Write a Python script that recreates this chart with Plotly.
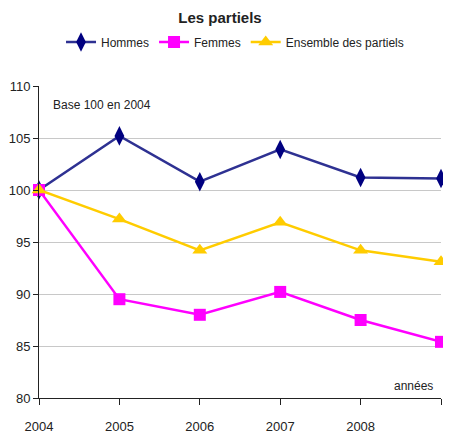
import plotly.graph_objects as go

years = [2004, 2005, 2006, 2007, 2008, 2009]
hommes = [100, 105.2, 100.8, 103.9, 101.2, 101.1]
femmes = [100, 89.5, 88.0, 90.2, 87.5, 85.4]
ensemble = [100, 97.2, 94.2, 96.9, 94.2, 93.1]
yticks = [80, 85, 90, 95, 100, 105, 110]

FONT = "Liberation Sans Narrow, Arial Narrow, Liberation Sans, Arial, sans-serif"

fig = go.Figure()
fig.add_trace(go.Scatter(x=years, y=hommes, name="Hommes", mode="lines+markers",
                         line=dict(color="#2E3192", width=2.5),
                         marker=dict(symbol="diamond-tall", size=14, color="#000080"),
                         cliponaxis=False))
fig.add_trace(go.Scatter(x=years, y=femmes, name="Femmes", mode="lines+markers",
                         line=dict(color="#FF00FF", width=2.5),
                         marker=dict(symbol="square", size=12, color="#FF00FF"),
                         cliponaxis=False))
fig.add_trace(go.Scatter(x=years, y=ensemble, name="Ensemble des partiels", mode="lines+markers",
                         line=dict(color="#FFCC00", width=2.5),
                         marker=dict(symbol="triangle-up", size=13, color="#FFCC00"),
                         cliponaxis=False))

# page body has an 8px margin: figure origin sits at (8, 8)
fig.update_layout(
    width=443, height=429,
    margin=dict(l=31, r=10, t=78, b=39, autoexpand=False),
    paper_bgcolor="white", plot_bgcolor="white",
    font=dict(family=FONT, size=12, color="#222222"),
    title=dict(text="<b>Les partiels</b>", x=0.4786, xanchor="center", y=1 - 9.5 / 429, yanchor="middle",
               font=dict(family="Liberation Sans, Arial, sans-serif", size=15, color="#222222")),
    legend=dict(orientation="h", x=0.4876, xanchor="center", y=1.141, yanchor="middle",
                font=dict(family=FONT, size=12), itemwidth=30, tracegroupgap=0,
                bgcolor="rgba(0,0,0,0)"),
    showlegend=True,
    xaxis=dict(range=[2004, 2009], tickvals=years, ticktext=[str(y) for y in years],
               showgrid=False, showline=True, linecolor="#222222", linewidth=1,
               ticks="outside", ticklen=6, tickcolor="#222222", zeroline=False,
               automargin=False, ticklabelstandoff=10, tickfont=dict(size=13)),
    yaxis=dict(range=[80, 110], tickvals=yticks, showgrid=True, gridcolor="#C8C8C8", gridwidth=1,
               showline=True, linecolor="#222222", linewidth=1, ticks="outside", ticklen=5,
               tickcolor="#222222", zeroline=False, automargin=False, tickfont=dict(size=13)),
    annotations=[
        dict(text="Base 100 en 2004", x=0.03, xref="paper", y=108.2, yref="y",
             xanchor="left", yanchor="middle", showarrow=False, font=dict(size=12)),
        dict(text="années", x=0.985, xref="paper", y=81.2, yref="y",
             xanchor="right", yanchor="middle", showarrow=False, font=dict(size=12)),
    ],
)

fig.write_html("out.html")
